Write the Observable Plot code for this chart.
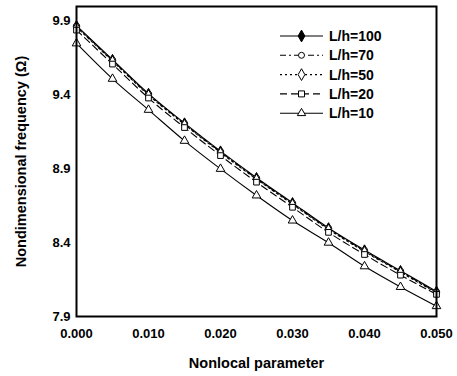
<!DOCTYPE html>
<html>
<head>
<meta charset="utf-8">
<script src="https://cdn.jsdelivr.net/npm/d3@7"></script>
<script src="https://cdn.jsdelivr.net/npm/@observablehq/plot@0.6"></script>
<style>
  body { margin: 0; background: #fff; }
  #chart { position: relative; width: 457px; height: 376px; }
</style>
</head>
<body>
<div id="chart"></div>
<script>
const nonlocal = [0, 0.005, 0.01, 0.015, 0.02, 0.025, 0.03, 0.035, 0.04, 0.045, 0.05];
const seriesNames = ["L/h=100", "L/h=70", "L/h=50", "L/h=20", "L/h=10"];
const lh100 = [9.87, 9.64, 9.41, 9.21, 9.02, 8.84, 8.67, 8.50, 8.35, 8.21, 8.07];
const lh70  = [9.865, 9.635, 9.405, 9.205, 9.015, 8.835, 8.665, 8.495, 8.345, 8.205, 8.065];
const lh50  = [9.86, 9.63, 9.40, 9.20, 9.01, 8.83, 8.66, 8.49, 8.34, 8.20, 8.06];
const lh20  = [9.84, 9.61, 9.38, 9.18, 8.99, 8.81, 8.64, 8.47, 8.32, 8.18, 8.05];
const lh10  = [9.75, 9.51, 9.30, 9.09, 8.90, 8.72, 8.55, 8.40, 8.24, 8.10, 7.97];
const yTicks = [7.9, 8.4, 8.9, 9.4, 9.9];
const xTicks = [0, 0.01, 0.02, 0.03, 0.04, 0.05];

const styles = [
  {symbol: "diamond", fill: "black", dash: null},
  {symbol: "circle", fill: "white", dash: "6,3,2,3"},
  {symbol: "diamond", fill: "white", dash: "2,3"},
  {symbol: "square", fill: "white", dash: "7,4"},
  {symbol: "triangle", fill: "white", dash: null}
];
const values = [lh100, lh70, lh50, lh20, lh10];
const data = values.map((arr, i) => arr.map((v, j) => ({x: nonlocal[j], y: v, s: seriesNames[i]})));

const marks = [];
data.forEach((d, i) => {
  marks.push(Plot.line(d, {x: "x", y: "y", stroke: "black", strokeWidth: 1.1, curve: "monotone-x",
    strokeDasharray: styles[i].dash || undefined}));
});
data.forEach((d, i) => {
  marks.push(Plot.dot(d, {x: "x", y: "y", symbol: () => styles[i].symbol, r: 3.2,
    stroke: "black", strokeWidth: 1, fill: styles[i].fill}));
});

const chart = Plot.plot({
  width: 457,
  height: 376,
  marginLeft: 76,
  marginRight: 21,
  marginTop: 6,
  marginBottom: 60,
  style: {fontFamily: "'Liberation Sans', Arial, sans-serif", fontSize: "13px", fontWeight: "bold", color: "black", background: "white"},
  x: {domain: [0, 0.05]},
  y: {domain: [7.9, 10.0]},
  symbol: {type: "identity"},
  marks: [
    Plot.axisX({ticks: xTicks, tickFormat: d3.format(".3f"), tickSize: 0, tickPadding: 12, fontSize: 13,
      label: null}),
    Plot.axisX({ticks: [], label: "Nonlocal parameter", labelAnchor: "center", labelArrow: "none",
      labelOffset: 51, fontSize: 14.5}),
    Plot.axisY({ticks: yTicks, tickFormat: d3.format(".1f"), tickSize: 0, tickPadding: 6, fontSize: 13,
      label: null}),
    Plot.axisY({ticks: [], label: "Nondimensional frequency (Ω)", labelAnchor: "center", labelArrow: "none",
      labelOffset: 61, fontSize: 14.5}),
    ...marks,
    Plot.frame({stroke: "black", strokeWidth: 2})
  ]
});
document.getElementById("chart").appendChild(chart);

// legend inside the plot, upper right
const svg = d3.select(chart);
const lg = svg.append("g").attr("transform", "translate(280,36)")
  .attr("font-family", "'Liberation Sans', Arial, sans-serif").attr("font-weight", "bold")
  .attr("font-size", 14).attr("text-anchor", "start");
const symGen = {
  diamond: d3.symbol(d3.symbolDiamond, 40),
  circle: d3.symbol(d3.symbolCircle, 28),
  square: d3.symbol(d3.symbolSquare, 36),
  triangle: d3.symbol(d3.symbolTriangle, 30)
};
seriesNames.forEach((name, i) => {
  const g = lg.append("g").attr("transform", `translate(0,${i * 19.3})`);
  g.append("line").attr("x1", 0).attr("x2", 43).attr("y1", 0).attr("y2", 0)
    .attr("stroke", "black").attr("stroke-width", 1.1)
    .attr("stroke-dasharray", styles[i].dash || null);
  g.append("path").attr("d", symGen[styles[i].symbol]()).attr("transform", "translate(21.5,0)")
    .attr("fill", styles[i].fill).attr("stroke", "black").attr("stroke-width", 1);
  g.append("text").attr("x", 49).attr("y", 0).attr("dy", "0.35em").attr("fill", "black")
    .attr("text-anchor", "start").text(name);
});
</script>
</body>
</html>
